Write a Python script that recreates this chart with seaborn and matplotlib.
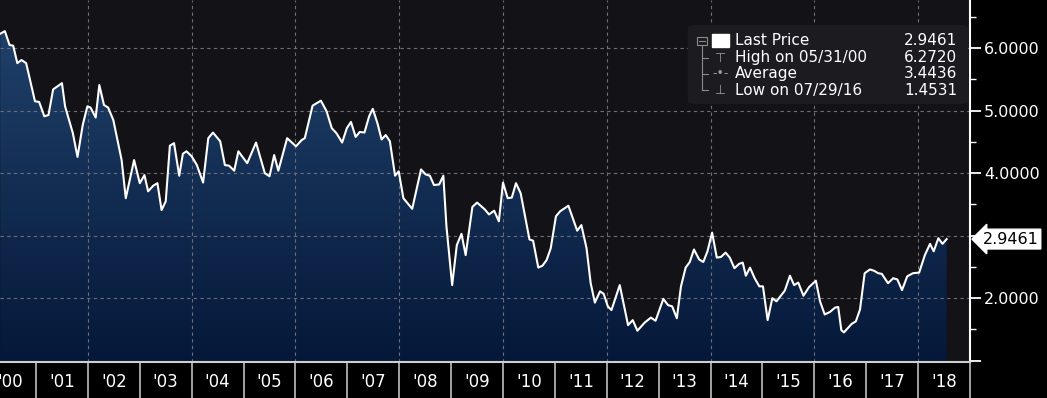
import numpy as np
import pandas as pd
import matplotlib
matplotlib.use("Agg")
import matplotlib.pyplot as plt
import seaborn as sns
from matplotlib.patches import FancyBboxPatch, Rectangle
from matplotlib.colors import LinearSegmentedColormap

# ---- data ----
years = [2000.31, 2000.40, 2000.49, 2000.56, 2000.64, 2000.72, 2000.81, 2000.98,
         2001.06, 2001.16, 2001.24, 2001.33, 2001.50, 2001.56, 2001.71, 2001.80, 2001.90, 2001.99,
         2002.05, 2002.15, 2002.22, 2002.31, 2002.39, 2002.49, 2002.65, 2002.73, 2002.89,
         2003.00, 2003.09, 2003.16, 2003.26, 2003.34, 2003.42, 2003.50, 2003.58, 2003.66, 2003.76, 2003.83, 2003.90,
         2004.00, 2004.10, 2004.22, 2004.32, 2004.41, 2004.55, 2004.64, 2004.72, 2004.82, 2004.90,
         2005.07, 2005.24, 2005.41, 2005.50, 2005.59, 2005.67, 2005.84,
         2006.01, 2006.12, 2006.18, 2006.33, 2006.49, 2006.60, 2006.70, 2006.79, 2006.90, 2006.99,
         2007.07, 2007.16, 2007.24, 2007.33, 2007.42, 2007.49, 2007.58, 2007.66, 2007.74, 2007.82, 2007.92, 2007.99,
         2008.08, 2008.16, 2008.25, 2008.42, 2008.51, 2008.59, 2008.67, 2008.77, 2008.85, 2008.91,
         2009.02, 2009.11, 2009.20, 2009.28, 2009.41, 2009.50, 2009.65, 2009.73, 2009.83, 2009.92,
         2010.00, 2010.09, 2010.17, 2010.25, 2010.34, 2010.51, 2010.58, 2010.68, 2010.76, 2010.84, 2010.92,
         2011.02, 2011.10, 2011.26, 2011.43, 2011.51, 2011.61, 2011.69, 2011.77, 2011.87, 2011.94,
         2012.02, 2012.09, 2012.25, 2012.41, 2012.50, 2012.59, 2012.73, 2012.85, 2012.94,
         2013.09, 2013.18, 2013.26, 2013.35, 2013.43, 2013.52, 2013.60, 2013.68, 2013.78, 2013.86, 2013.94,
         2014.03, 2014.12, 2014.20, 2014.29, 2014.37, 2014.46, 2014.55, 2014.62, 2014.68, 2014.76, 2014.85, 2014.94,
         2015.01, 2015.10, 2015.19, 2015.27, 2015.43, 2015.53, 2015.61, 2015.69, 2015.79, 2015.90,
         2016.03, 2016.11, 2016.20, 2016.30, 2016.40, 2016.46, 2016.52, 2016.57, 2016.72, 2016.80, 2016.88, 2016.97,
         2017.07, 2017.15, 2017.23, 2017.30, 2017.42, 2017.52, 2017.60, 2017.69, 2017.79, 2017.90,
         2018.02, 2018.13, 2018.23, 2018.30, 2018.39, 2018.47, 2018.55]

values = [6.23, 6.272, 6.05, 6.04, 5.76, 5.81, 5.76, 5.15,
          5.14, 4.91, 4.93, 5.34, 5.44, 5.07, 4.64, 4.26, 4.77, 5.07,
          5.05, 4.89, 5.41, 5.09, 5.05, 4.85, 4.21, 3.60, 4.21,
          3.84, 3.97, 3.71, 3.80, 3.84, 3.41, 3.55, 4.44, 4.48, 3.96, 4.31, 4.35,
          4.27, 4.13, 3.85, 4.56, 4.65, 4.51, 4.13, 4.12, 4.04, 4.35,
          4.16, 4.49, 4.00, 3.95, 4.29, 4.04, 4.56,
          4.43, 4.53, 4.56, 5.08, 5.16, 4.99, 4.72, 4.64, 4.49, 4.72,
          4.82, 4.58, 4.66, 4.65, 4.91, 5.03, 4.80, 4.54, 4.61, 4.51, 3.96, 4.03,
          3.60, 3.52, 3.43, 4.06, 3.98, 3.96, 3.81, 3.82, 3.96, 3.15,
          2.21, 2.85, 3.03, 2.69, 3.46, 3.53, 3.42, 3.34, 3.40, 3.23,
          3.85, 3.60, 3.61, 3.84, 3.68, 2.94, 2.92, 2.49, 2.52, 2.61, 2.80,
          3.31, 3.39, 3.48, 3.08, 3.17, 2.80, 2.24, 1.93, 2.11, 2.07,
          1.87, 1.81, 2.21, 1.57, 1.65, 1.48, 1.61, 1.69, 1.64,
          1.99, 1.89, 1.87, 1.68, 2.19, 2.49, 2.58, 2.78, 2.62, 2.58, 2.75,
          3.05, 2.65, 2.66, 2.73, 2.65, 2.48, 2.55, 2.57, 2.36, 2.49, 2.32, 2.19,
          2.19, 1.65, 2.00, 1.95, 2.12, 2.36, 2.21, 2.25, 2.04, 2.18,
          2.28, 1.95, 1.74, 1.78, 1.85, 1.86, 1.49, 1.4531, 1.59, 1.63, 1.82, 2.40,
          2.46, 2.44, 2.40, 2.39, 2.24, 2.32, 2.30, 2.13, 2.35, 2.40,
          2.41, 2.69, 2.87, 2.75, 2.96, 2.87, 2.9461]

year_labels = ["'00", "'01", "'02", "'03", "'04", "'05", "'06", "'07", "'08", "'09",
               "'10", "'11", "'12", "'13", "'14", "'15", "'16", "'17", "'18"]
y_ticks = [1, 2, 3, 4, 5, 6]
y_ticklabels = ["", "2.0000", "", "4.0000", "5.0000", "6.0000"]
legend_labels = ["Last Price", "High on 05/31/00", "Average", "Low on 07/29/16"]
legend_values = ["2.9461", "6.2720", "3.4436", "1.4531"]
last_price = 2.9461

# ---- style ----
plt.rcParams['font.family'] = ['DejaVu Sans']

fig = plt.figure(figsize=(10.47, 3.98), dpi=100, facecolor='black')
ax = fig.add_axes([0, 36 / 398, 970 / 1047, 362 / 398])
ax.set_facecolor('#131217')

xlim = (2000.306, 2019.0)
ylim = (0.98, 6.77)

df = pd.DataFrame({'year': years, 'yield': values})

# gradient-filled area
poly = ax.fill_between(df['year'], df['yield'], ylim[0], facecolor='none', edgecolor='none')
grad = np.linspace(1, 0, 256).reshape(-1, 1)
cmap = LinearSegmentedColormap.from_list('g', ['#051839', '#22446e'])
im = ax.imshow(grad, extent=[xlim[0], xlim[1], ylim[0], ylim[1]], aspect='auto',
               cmap=cmap, origin='upper', zorder=1, interpolation='bilinear')
im.set_clip_path(poly.get_paths()[0], ax.transData)

# line
sns.lineplot(data=df, x='year', y='yield', color='white', linewidth=1.5, ax=ax, zorder=3)

ax.set_xlim(*xlim)
ax.set_ylim(*ylim)
ax.set_xlabel('')
ax.set_ylabel('')

# grid
ax.set_axisbelow('line')
ax.yaxis.grid(True, color='#6e6e76', linestyle=(0, (3, 3)), linewidth=0.8)
ax.xaxis.grid(False)
for gy in range(2002, 2019, 2):
    ax.axvline(gy, color='#6e6e76', linestyle=(0, (3, 3)), linewidth=0.8, zorder=1.5)

# y axis on right
ax.yaxis.tick_right()
ax.set_yticks(y_ticks)
ax.set_yticklabels(y_ticklabels)
ax.set_yticks(np.arange(1.5, 6.6, 1.0), minor=True)
ax.tick_params(axis='y', which='major', direction='out', length=8, width=1.3,
               color='white', labelcolor='white', labelsize=11.5, pad=2, right=True, left=False)
ax.tick_params(axis='y', which='minor', direction='out', length=4, width=1.0,
               color='white', right=True, left=False)

# x axis: separators at year starts, labels centred in years
ax.set_xticks(np.arange(2001, 2020))
ax.set_xticklabels([])
ax.set_xticks(np.arange(2000.5, 2019.0, 1.0), minor=True)
ax.set_xticklabels(year_labels, minor=True)
ax.tick_params(axis='x', which='major', direction='out', length=27, width=1.2,
               color='#bdbdbd', bottom=True)
ax.tick_params(axis='x', which='minor', length=0, pad=8, labelsize=12,
               labelcolor='white', bottom=True)

for s in ['top', 'left']:
    ax.spines[s].set_visible(False)
ax.spines['bottom'].set_color('#cfcfcf')
ax.spines['bottom'].set_linewidth(1.5)
ax.spines['right'].set_color('white')
ax.spines['right'].set_linewidth(1.5)

# last price tag
ax.annotate(f"{last_price:.4f}", xy=(1.0, last_price), xycoords=('axes fraction', 'data'),
            xytext=(9, 0), textcoords='offset points', ha='left', va='center',
            fontsize=11.5, color='black', annotation_clip=False,
            bbox=dict(boxstyle='larrow,pad=0.15', fc='white', ec='white'))

# legend box
box = FancyBboxPatch((0.709, 0.713), 0.289, 0.218, boxstyle='round,pad=0,rounding_size=0.008',
                     transform=ax.transAxes, fc='#1c1c20', ec='none', zorder=5)
ax.add_patch(box)
rows = [0.887, 0.840, 0.796, 0.751]
for yy, lab, val in zip(rows, legend_labels, legend_values):
    ax.text(0.758, yy, lab, transform=ax.transAxes, color='white', fontsize=11,
            ha='left', va='center', zorder=6)
    ax.text(0.987, yy, val, transform=ax.transAxes, color='white', fontsize=11,
            ha='right', va='center', zorder=6)
# tree decoration
tree_x = 0.7235
ax.plot([tree_x, tree_x], [rows[0] - 0.015, rows[-1]], transform=ax.transAxes,
        color='#8a8a8a', lw=0.8, zorder=6)
for yy in rows[1:]:
    ax.plot([tree_x, tree_x + 0.006], [yy, yy], transform=ax.transAxes,
            color='#8a8a8a', lw=0.8, zorder=6)
ax.add_patch(Rectangle((tree_x - 0.005, rows[0] - 0.012), 0.010, 0.024, transform=ax.transAxes,
                       fc='#1c1c20', ec='#8a8a8a', lw=0.8, zorder=6))
ax.plot([tree_x - 0.003, tree_x + 0.003], [rows[0], rows[0]], transform=ax.transAxes,
        color='#8a8a8a', lw=0.8, zorder=7)
ax.add_patch(Rectangle((0.734, 0.870), 0.018, 0.036, transform=ax.transAxes,
                       fc='white', ec='white', zorder=6))
icons = ['\u22a4', '-\u2022-', '\u22a5']
for yy, ic in zip(rows[1:], icons):
    ax.text(0.743, yy, ic, transform=ax.transAxes, color='#9a9a9a', fontsize=9,
            ha='center', va='center', zorder=6)

fig.savefig('out.png', dpi=100, facecolor='black')
